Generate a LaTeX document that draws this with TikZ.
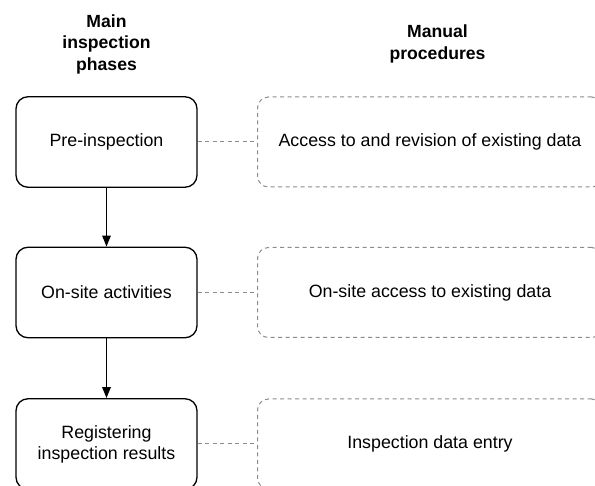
\documentclass[tikz,border=0pt]{standalone}
\usepackage{fontspec}
\setmainfont{Liberation Sans}
\usetikzlibrary{arrows.meta}
\begin{document}
\begin{tikzpicture}[x=1pt,y=-1pt,
  phase/.style={draw=black, line width=1.3pt, rounded corners=12pt, minimum width=181pt, minimum height=90.5pt, align=center, inner sep=0pt, font=\fontsize{17.8}{21}\selectfont},
  proc/.style={draw=black!45, line width=1pt, dash pattern=on 4pt off 3.5pt, rounded corners=11pt, minimum width=345pt, minimum height=90pt, inner sep=0pt, font=\fontsize{17.8}{21}\selectfont},
  head/.style={align=center, font=\bfseries\fontsize{17.6}{21.5}\selectfont},
  flow/.style={line width=1.3pt, -{Triangle[length=11pt,width=8.5pt]}},
  link/.style={draw=black!45, line width=1pt, dash pattern=on 4pt off 3.5pt}]
\useasboundingbox (0,0) rectangle (595,486);
\clip (0,0) rectangle (595,486);
\fill[white] (0,0) rectangle (595,486);
\node[head] (h1) at (106.5,44) {Main\\inspection\\phases};
\node[head] (h2) at (437.5,44) {Manual\\procedures};
\node[phase] (p1) at (106.5,142) {Pre-inspection};
\node[phase] (p2) at (106.5,292.5) {On-site activities};
\node[phase] (p3) at (106.5,444) {Registering\\inspection results};
\node[proc] (m1) at (430,142) {Access to and revision of existing data};
\node[proc] (m2) at (430,292.5) {On-site access to existing data};
\node[proc] (m3) at (430,444) {Inspection data entry};
\draw[flow] (p1) -- (p2);
\draw[flow] (p2) -- (p3);
\draw[link] (p1) -- (m1);
\draw[link] (p2) -- (m2);
\draw[link] (p3) -- (m3);
\end{tikzpicture}
\end{document}
